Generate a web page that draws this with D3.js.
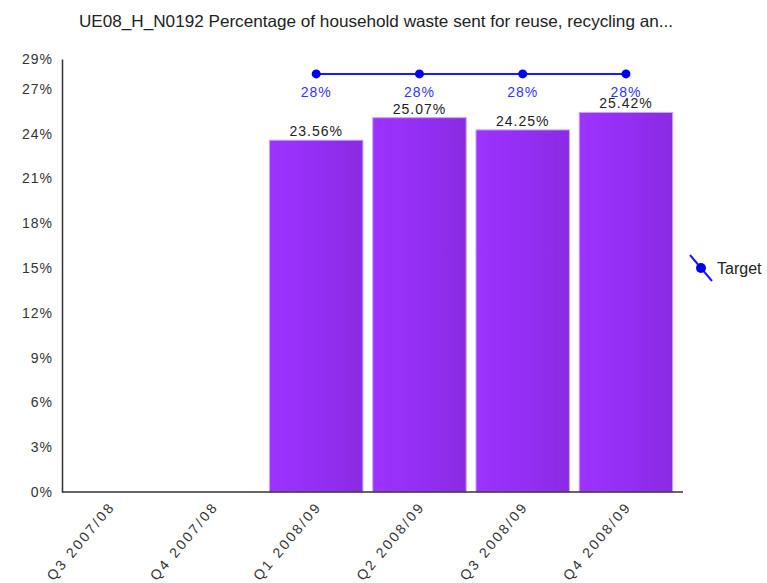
<!DOCTYPE html>
<html>
<head>
<meta charset="utf-8">
<script src="https://cdn.jsdelivr.net/npm/d3@7"></script>
<style>
  html, body { margin: 0; padding: 0; background: #fff; }
  svg { display: block; font-family: "Liberation Sans", Arial, sans-serif; }
</style>
</head>
<body>
<svg id="chart" width="767" height="583"></svg>
<script>
// Quarterly recycling rate against target
const categories = ["Q3 2007/08", "Q4 2007/08", "Q1 2008/09", "Q2 2008/09", "Q3 2008/09", "Q4 2008/09"];
const actualValues = [null, null, 23.56, 25.07, 24.25, 25.42];
const targetValues = [null, null, 28, 28, 28, 28];
const yTickValues = [0, 3, 6, 9, 12, 15, 18, 21, 24, 27, 29];
const titleText = "UE08_H_N0192 Percentage of household waste sent for reuse, recycling an...";
const legendLabel = "Target";

const svg = d3.select("#chart");

const x = d3.scaleBand()
  .domain(categories)
  .range([63, 683])
  .paddingInner(0.095)
  .paddingOuter(0.05)
  .align(0);

const y = d3.scaleLinear().domain([0, 29]).range([492, 59]);

// gradient fill for the bars
const defs = svg.append("defs");
const grad = defs.append("linearGradient").attr("id", "barFill")
  .attr("x1", "0%").attr("x2", "100%").attr("y1", "0%").attr("y2", "0%");
grad.append("stop").attr("offset", "0%").attr("stop-color", "#9e33ff");
grad.append("stop").attr("offset", "55%").attr("stop-color", "#932ef3");
grad.append("stop").attr("offset", "100%").attr("stop-color", "#8a2be2");

// title
svg.append("text")
  .attr("x", 376).attr("y", 27)
  .attr("text-anchor", "middle")
  .attr("font-size", 16.5)
  .attr("fill", "#222")
  .attr("textLength", 594)
  .attr("lengthAdjust", "spacingAndGlyphs")
  .text(titleText);

// bars
const barData = categories.map((c, i) => ({ c, v: actualValues[i] })).filter(d => d.v != null);
svg.append("g").selectAll("rect").data(barData).join("rect")
  .attr("x", d => x(d.c))
  .attr("y", d => y(d.v))
  .attr("width", x.bandwidth())
  .attr("height", d => y(0) - y(d.v))
  .attr("fill", "url(#barFill)")
  .attr("stroke", "#c7a2ff")
  .attr("stroke-width", 1);

// bar value labels
svg.append("g").selectAll("text").data(barData).join("text")
  .attr("x", d => x(d.c) + x.bandwidth() / 2)
  .attr("y", d => y(d.v) - 4)
  .attr("text-anchor", "middle")
  .attr("font-size", 14)
  .attr("letter-spacing", 1)
  .attr("fill", "#222")
  .text(d => d.v.toFixed(2) + "%");

// y axis
const yAxis = svg.append("g").attr("transform", "translate(62,0)")
  .call(d3.axisLeft(y).tickValues(yTickValues).tickSize(0).tickPadding(9).tickFormat(d => d + "%"));
yAxis.select(".domain").attr("stroke", "#333").attr("stroke-width", 1.5);
yAxis.selectAll("text").attr("font-size", 14).attr("fill", "#333")
  .attr("letter-spacing", 1).attr("font-family", "Liberation Sans, Arial, sans-serif");

// x axis
const xAxis = svg.append("g").attr("transform", "translate(0,492)")
  .call(d3.axisBottom(x).tickSize(0).tickPadding(0));
xAxis.select(".domain").attr("stroke", "#333").attr("stroke-width", 1.5)
  .attr("d", "M62,0H683");
xAxis.selectAll(".tick text")
  .attr("font-size", 14).attr("fill", "#333")
  .attr("letter-spacing", 2.4)
  .attr("font-family", "Liberation Sans, Arial, sans-serif")
  .attr("text-anchor", "end")
  .attr("dy", null).attr("y", null)
  .attr("transform", "translate(6,15) rotate(-50)");

// target line
const targetData = categories.map((c, i) => ({ c, v: targetValues[i] })).filter(d => d.v != null);
const cx = d => x(d.c) + x.bandwidth() / 2;
svg.append("path").datum(targetData)
  .attr("fill", "none").attr("stroke", "#1a1aff").attr("stroke-width", 2)
  .attr("d", d3.line().x(cx).y(d => y(d.v)));
svg.append("g").selectAll("circle").data(targetData).join("circle")
  .attr("cx", cx).attr("cy", d => y(d.v)).attr("r", 4.5).attr("fill", "#0000ee");
svg.append("g").selectAll("text").data(targetData).join("text")
  .attr("x", cx).attr("y", d => y(d.v) + 23)
  .attr("text-anchor", "middle")
  .attr("font-size", 14).attr("letter-spacing", 1)
  .attr("fill", "#3333ff")
  .text(d => d.v + "%");

// legend
const lg = svg.append("g").attr("transform", "translate(701,268)");
lg.append("line").attr("x1", -11).attr("y1", -13).attr("x2", 11).attr("y2", 13)
  .attr("stroke", "#1a1aff").attr("stroke-width", 2);
lg.append("circle").attr("r", 5).attr("fill", "#0000ee");
lg.append("text").attr("x", 16).attr("y", 6)
  .attr("font-size", 16).attr("fill", "#222").text(legendLabel);
</script>
</body>
</html>
